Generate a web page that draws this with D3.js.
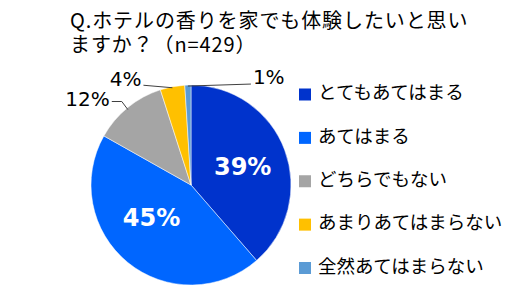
<!DOCTYPE html>
<html><head><meta charset="utf-8">
<script src="https://cdn.jsdelivr.net/npm/d3@7"></script>
<style>
html,body{margin:0;padding:0;background:#fff;}
svg{display:block;}
</style></head>
<body>
<svg id="chart" width="510" height="305"></svg>
<script>
const titleLines = ["Q.ホテルの香りを家でも体験したいと思い", "ますか？（n=429）"];
const categories = ["とてもあてはまる", "あてはまる", "どちらでもない", "あまりあてはまらない", "全然あてはまらない"];
const values = [39, 45, 12, 4, 1];
const valueLabels = ["39%", "45%", "12%", "4%", "1%"];
const colors = ["#0033CC", "#0066FF", "#A5A5A5", "#FFC000", "#5B9BD5"];

const svg = d3.select("#chart");
const cx = 191, cy = 185, R = 100;

// title
svg.append("g").selectAll("text").data(titleLines).join("text")
  .attr("x", 70).attr("y", (d, i) => 28 + i * 24)
  .attr("font-family", "'Noto Sans CJK JP', sans-serif")
  .attr("font-size", 20).attr("letter-spacing", 0.9)
  .attr("fill", "#000").text(d => d);

const pie = d3.pie().sort(null).value(d => d).startAngle(0).endAngle(2 * Math.PI);
const arcs = pie(values);
const arc = d3.arc().innerRadius(0).outerRadius(R);
const inLabelArc = d3.arc().innerRadius(R * 0.53).outerRadius(R * 0.53);
const edgeArc = d3.arc().innerRadius(R).outerRadius(R);

const g = svg.append("g").attr("transform", `translate(${cx},${cy})`);
g.selectAll("path").data(arcs).join("path")
  .attr("d", arc).attr("fill", (d, i) => colors[i])
  .attr("stroke", "#fff").attr("stroke-width", 0.5);

// inside labels (first two), with small nudges like the original
const inNudge = [[2, 0], [-6, -9]];
g.selectAll("text.in").data(arcs.slice(0, 2)).join("text")
  .attr("class", "in")
  .attr("transform", (d, i) => { const c = inLabelArc.centroid(d); return `translate(${c[0] + inNudge[i][0]},${c[1] + inNudge[i][1]})`; })
  .attr("text-anchor", "middle").attr("dy", "0.36em")
  .attr("font-family", "'DejaVu Sans', Verdana, sans-serif")
  .attr("font-weight", "bold").attr("font-size", 24)
  .attr("fill", "#fff").text((d, i) => valueLabels[i]);

// outside labels with leader lines
const outside = [
  { i: 2, path: (e) => [[e[0], e[1] + 2], [e[0] - 6, e[1] - 6], [e[0] - 16, e[1] - 6]], lx: -18, ly: -2, anchor: "end" },
  { i: 3, path: (e) => [[e[0], e[1] + 1], [e[0] - 29, e[1] - 1.5]], lx: -31, ly: -1, anchor: "end" },
  { i: 4, path: (e) => [[e[0], e[1] + 1], [e[0] + 63, e[1] - 1]], lx: 65, ly: -1, anchor: "start" }
];
outside.forEach(o => {
  const e = edgeArc.centroid(arcs[o.i]);
  g.append("path").attr("d", d3.line()(o.path(e)))
    .attr("fill", "none").attr("stroke", "#404040").attr("stroke-width", 1);
  g.append("text").attr("x", e[0] + o.lx).attr("y", e[1] + o.ly)
    .attr("text-anchor", o.anchor)
    .attr("font-family", "'DejaVu Sans', Verdana, sans-serif")
    .attr("font-size", 20).attr("fill", "#000")
    .text(valueLabels[o.i]);
});

// legend
const legY = d3.scalePoint().domain(categories).range([94.5, 268]);
const leg = svg.append("g").selectAll("g").data(categories).join("g")
  .attr("transform", d => `translate(299,${legY(d)})`);
leg.append("rect").attr("x", 0).attr("y", -6).attr("width", 12).attr("height", 12)
  .attr("fill", (d, i) => colors[i]);
leg.append("text").attr("x", 19).attr("y", -2).attr("dy", "0.36em")
  .attr("font-family", "'Noto Sans CJK JP', sans-serif")
  .attr("font-size", 18.5).attr("fill", "#000").text(d => d);
</script>
</body></html>
